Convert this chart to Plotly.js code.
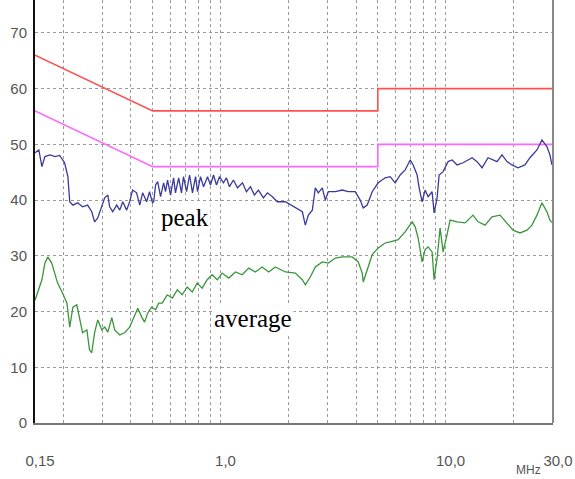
<!DOCTYPE html>
<html>
<head>
<meta charset="utf-8">
<script src="https://cdn.plot.ly/plotly-3.0.1.min.js"></script>
<style>html,body{margin:0;padding:0;background:#fff;}#chart{width:575px;height:479px;}</style>
</head>
<body>
<div id="chart"></div>
<script>
// Limit lines (MHz, dBµV)
const qpLimitFreq = [0.15, 0.5, 5, 5, 30];
const qpLimitLevel = [66, 56, 56, 60, 60];
const avLimitFreq = [0.15, 0.5, 5, 5, 30];
const avLimitLevel = [56, 46, 46, 50, 50];

// Peak measurement
const peakFreq = [0.150,0.156,0.161,0.166,0.175,0.184,0.193,0.203,0.210,0.214,0.221,0.232,0.244,0.257,0.268,0.276,0.285,0.297,0.306,0.316,0.322,0.332,0.346,0.357,0.368,0.383,0.395,0.407,0.424,0.438,0.451,0.470,0.484,0.499,
0.505,0.515,0.526,0.542,0.559,0.570,0.582,0.600,0.619,0.631,0.652,0.671,0.685,0.707,0.729,0.751,0.775,0.791,0.815,0.841,0.876,0.903,0.931,0.960,0.990,1.031,1.063,1.096,1.142,1.190,1.252,1.304,1.359,1.415,1.474,1.551,1.616,1.701,1.789,
1.942,2.151,2.310,2.382,2.456,2.559,2.638,2.720,2.834,2.922,3.013,3.236,3.475,3.695,3.968,4.177,4.307,4.485,4.721,5.019,5.392,5.674,5.971,6.284,6.613,6.960,7.177,7.475,7.629,7.865,8.111,8.363,8.712,8.892,9.170,9.359,9.748,10.26,10.69,11.25,11.96,13.11,13.80,14.52,15.44,16.92,17.81,18.74,19.72,20.97,22.51,23.70,25.46,26.79,28.19,29.07,29.67];
const peakLevel = [48.5,49.0,46.0,47.8,48.1,47.8,48.0,46.7,44.2,39.7,39.1,39.5,38.8,39.1,37.9,36.1,36.8,39.1,40.4,40.9,38.8,37.9,39.1,38.2,39.7,38.2,39.7,41.8,41.3,39.1,41.3,39.7,41.5,39.5,
39.7,42.7,43.3,40.6,43.1,41.5,43.6,40.9,44.0,41.3,44.0,41.3,44.2,41.5,44.5,41.3,44.2,41.5,44.2,42.4,44.2,42.7,44.5,42.7,44.2,43.1,44.0,42.4,43.6,42.2,43.1,41.5,42.4,40.9,41.8,40.4,41.3,40.6,39.7,
39.7,38.6,37.9,35.5,37.3,38.2,42.2,41.3,42.2,40.0,41.5,41.5,41.8,41.5,41.5,40.0,38.6,39.1,41.5,43.1,44.0,44.2,43.1,44.5,45.4,47.2,46.3,44.5,42.2,39.7,41.8,40.6,41.5,37.7,40.4,44.5,45.1,46.9,47.2,46.3,46.7,47.6,46.9,45.8,47.6,46.9,48.1,46.9,46.3,45.8,46.3,47.6,49.0,50.8,49.6,48.1,46.3];

// Average measurement
const avgFreq = [0.150,0.161,0.166,0.171,0.178,0.184,0.189,0.199,0.208,0.214,0.221,0.230,0.237,0.244,0.255,0.262,0.268,0.276,0.285,0.297,0.306,0.316,0.329,0.339,0.357,0.375,0.395,0.416,0.429,0.447,0.460,0.475,0.494,0.515,0.531,
0.551,0.580,0.611,0.643,0.676,0.711,0.749,0.788,0.829,0.873,0.919,0.967,1.017,1.088,1.166,1.248,1.335,1.430,1.530,1.637,
1.754,1.942,2.151,2.310,2.382,2.506,2.638,2.834,3.013,3.236,3.475,3.849,4.093,4.263,4.307,4.485,4.721,5.019,5.392,5.674,6.157,6.613,7.104,7.325,7.551,7.865,8.111,8.363,8.712,8.892,9.170,9.454,9.748,10.15,10.47,11.25,12.21,13.24,13.94,14.97,16.08,17.45,18.74,19.93,21.40,22.98,24.19,25.46,26.79,28.19,29.07,29.67];
const avgLevel = [22.0,25.7,28.7,29.8,28.7,26.9,25.1,23.3,21.5,17.2,20.8,21.2,18.5,16.2,16.7,13.1,12.6,16.2,18.5,16.7,17.2,16.3,18.9,16.7,15.8,16.2,17.2,19.4,20.6,19.0,18.1,19.7,20.8,20.3,21.5,
21.5,23.0,22.4,23.9,23.0,24.4,23.5,25.1,24.2,25.7,26.6,25.7,26.9,26.0,27.1,26.6,27.8,27.1,28.0,27.1,
28.0,27.1,26.9,25.7,24.8,26.2,28.0,28.9,28.7,29.6,29.8,29.8,28.9,26.9,25.3,27.5,30.2,31.4,32.3,32.5,32.9,34.3,36.1,35.2,33.2,28.9,31.1,31.6,30.7,25.7,29.6,35.0,30.7,33.8,36.4,36.1,35.9,37.3,36.1,35.5,37.0,37.3,35.9,34.6,34.1,34.6,35.5,37.3,39.5,37.9,36.4,36.0];

// Axis ticks
const xTickVals = [0.15,0.2,0.3,0.4,0.5,0.6,0.7,0.8,0.9,1,2,3,4,5,6,7,8,9,10,20,30];
const xTickText = ['0,15','','','','','','','','','1,0','','','','','','','','','10,0','','30,0'];
const yTickVals = [0,10,20,30,40,50,60,70];
const yTickText = ['0','10','20','30','40','50','60','70'];

const tickFont = {family: '"Liberation Sans Narrow", "Liberation Sans", Arial, sans-serif', size: 15, color: '#555'};

const traces = [
  {x: qpLimitFreq, y: qpLimitLevel, type: 'scatter', mode: 'lines', line: {color: '#ff5050', width: 1.6}, hoverinfo: 'skip'},
  {x: avLimitFreq, y: avLimitLevel, type: 'scatter', mode: 'lines', line: {color: '#ff66ff', width: 1.6}, hoverinfo: 'skip'},
  {x: peakFreq, y: peakLevel, type: 'scatter', mode: 'lines', line: {color: '#3a3a9e', width: 1.3}},
  {x: avgFreq, y: avgLevel, type: 'scatter', mode: 'lines', line: {color: '#3a963a', width: 1.3}}
];

const layout = {
  width: 575, height: 479,
  margin: {l: 35, r: 22, t: 0, b: 56, pad: 0},
  paper_bgcolor: '#fff', plot_bgcolor: '#fff',
  showlegend: false,
  xaxis: {
    type: 'log', range: [Math.log10(0.15), Math.log10(30)],
    tickmode: 'array', tickvals: xTickVals, ticktext: xTickText,
    showgrid: true, gridcolor: '#9a9a9a', griddash: '3px,3px', gridwidth: 1,
    showline: true, linecolor: '#777', linewidth: 1.5,
    ticks: '', zeroline: false, tickfont: tickFont,
    ticklabelstandoff: 23, ticklabelshift: 5
  },
  yaxis: {
    range: [0, 75.9],
    tickmode: 'array', tickvals: yTickVals, ticktext: yTickText,
    showgrid: true, gridcolor: '#9a9a9a', griddash: '3px,3px', gridwidth: 1,
    showline: true, linecolor: '#111', linewidth: 2,
    ticks: '', zeroline: false, tickfont: tickFont,
    ticklabelstandoff: 3
  },
  shapes: [
    {type: 'line', xref: 'paper', yref: 'paper', x0: 1, x1: 1, y0: 0, y1: 1, line: {color: '#888', width: 2}}
  ],
  annotations: [
    {text: 'peak', xref: 'paper', yref: 'paper', x: 0.29, y: 0.485, xanchor: 'center', yanchor: 'middle', showarrow: false,
     font: {family: '"Liberation Serif", "Times New Roman", serif', size: 25, color: '#000'}, bgcolor: '#fff'},
    {text: 'average', xref: 'paper', yref: 'paper', x: 0.421, y: 0.248, xanchor: 'center', yanchor: 'middle', showarrow: false,
     font: {family: '"Liberation Serif", "Times New Roman", serif', size: 25, color: '#000'}, bgcolor: '#fff'},
    {text: 'MHz', xref: 'paper', yref: 'paper', x: 0.952, y: -0.111, xanchor: 'center', yanchor: 'middle', showarrow: false,
     font: {family: '"Liberation Sans Narrow", "Liberation Sans", Arial, sans-serif', size: 12, color: '#555'}}
  ]
};

Plotly.newPlot('chart', traces, layout, {staticPlot: true, displayModeBar: false});
</script>
</body>
</html>
